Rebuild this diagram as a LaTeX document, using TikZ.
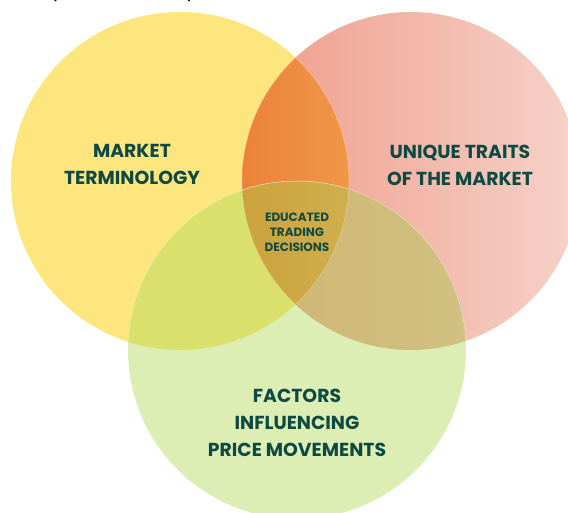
\documentclass[tikz,border=0pt]{standalone}
\usepackage{fontspec}
\setmainfont{Poppins}
\definecolor{cyel}{HTML}{FDE67D}
\definecolor{credL}{HTML}{EE9C8A}
\definecolor{credR}{HTML}{F7D2C9}
\definecolor{cgrn}{HTML}{DCEEB4}
\definecolor{coraL}{HTML}{EC823A}
\definecolor{coraR}{HTML}{EF9747}
\definecolor{cyg}{HTML}{D9E16C}
\definecolor{crgL}{HTML}{CFB473}
\definecolor{crgR}{HTML}{D1C182}
\definecolor{cmidL}{HTML}{CCA23C}
\definecolor{cmidR}{HTML}{D0AF4D}
\definecolor{ctxt}{HTML}{0E4A43}
\tikzset{
  lbl/.style={text=ctxt, align=center, font=\fontsize{18.8}{27}\selectfont\bfseries, inner sep=0pt},
  lblsmall/.style={text=ctxt, align=center, font=\fontsize{12}{15}\selectfont\bfseries, inner sep=0pt},
  edge/.style={draw=white, draw opacity=0.35, line width=0.5pt}
}
\begin{document}
\begin{tikzpicture}[x=1pt,y=-1pt]
\useasboundingbox (0,0) rectangle (568,513);
\def\rr{169}
\coordinate (Y) at (180,181);
\coordinate (R) at (411,181);
\coordinate (G) at (297,350);
\begin{scope}
\clip (0,0) rectangle (568,513);
% fragments of the cut-off title line above
\node[anchor=base, text=black, font=\fontsize{20}{24}\selectfont, inner sep=0pt] (t1) at (60,-3) {p};
\node[anchor=base, text=black, font=\fontsize{20}{24}\selectfont, inner sep=0pt] (t2) at (191,-3) {y};
% base circles
\fill[cyel] (Y) circle (\rr);
\begin{scope}
  \clip (R) circle (\rr);
  \shade[left color=credL, right color=credR] (242,12) rectangle (580,350);
\end{scope}
\fill[cgrn] (G) circle (\rr);
% yellow & red
\begin{scope}
  \clip (Y) circle (\rr);
  \clip (R) circle (\rr);
  \shade[left color=coraL, right color=coraR] (242,12) rectangle (349,350);
\end{scope}
% yellow & green
\begin{scope}
  \clip (Y) circle (\rr);
  \clip (G) circle (\rr);
  \fill[cyg] (128,181) rectangle (349,350);
\end{scope}
% red & green
\begin{scope}
  \clip (R) circle (\rr);
  \clip (G) circle (\rr);
  \shade[left color=crgL, right color=crgR] (242,181) rectangle (466,350);
\end{scope}
% all three
\begin{scope}
  \clip (Y) circle (\rr);
  \clip (R) circle (\rr);
  \clip (G) circle (\rr);
  \shade[left color=cmidL, right color=cmidR] (242,181) rectangle (349,305);
\end{scope}
% faint edges inside overlaps
\begin{scope}
  \clip (Y) circle (\rr);
  \draw[edge] (R) circle (\rr);
  \draw[edge] (G) circle (\rr);
\end{scope}
\begin{scope}
  \clip (R) circle (\rr);
  \draw[edge] (Y) circle (\rr);
  \draw[edge] (G) circle (\rr);
\end{scope}
\end{scope}
% labels
\node[lbl] (a) at (132,164) {MARKET\\TERMINOLOGY};
\node[lbl] (b) at (460,165) {UNIQUE TRAITS\\OF THE MARKET};
\node[lbl] (c) at (297,423) {FACTORS\\INFLUENCING\\PRICE MOVEMENTS};
\node[lblsmall] (d) at (297,232) {EDUCATED\\TRADING\\DECISIONS};
\end{tikzpicture}
\end{document}
